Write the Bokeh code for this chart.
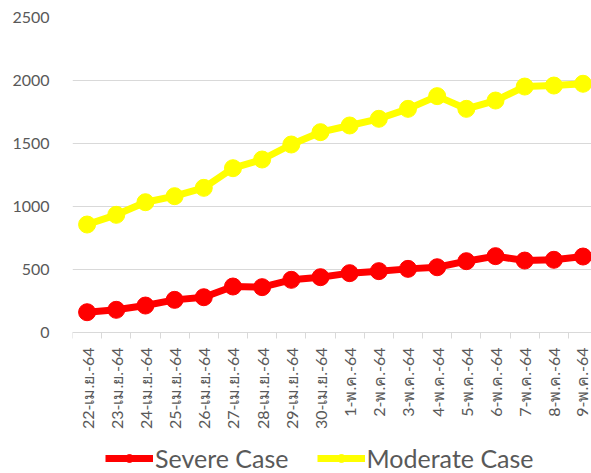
from bokeh.plotting import figure
from bokeh.models import Range1d, FixedTicker, Legend, LegendItem
from bokeh.embed import file_html
from bokeh.resources import INLINE

dates = ["22-เม.ย.-64", "23-เม.ย.-64", "24-เม.ย.-64", "25-เม.ย.-64", "26-เม.ย.-64",
         "27-เม.ย.-64", "28-เม.ย.-64", "29-เม.ย.-64", "30-เม.ย.-64",
         "1-พ.ค.-64", "2-พ.ค.-64", "3-พ.ค.-64", "4-พ.ค.-64", "5-พ.ค.-64",
         "6-พ.ค.-64", "7-พ.ค.-64", "8-พ.ค.-64", "9-พ.ค.-64"]
severe = [161, 180, 214, 259, 280, 365, 360, 418, 439, 471, 487, 505, 518, 566, 606, 571, 577, 603]
moderate = [857, 934, 1034, 1082, 1148, 1304, 1373, 1492, 1590, 1643, 1696, 1775, 1876, 1775, 1841, 1952, 1960, 1974]
y_ticks = [0, 500, 1000, 1500, 2000, 2500]

idx = list(range(len(dates)))

p = figure(frame_width=519, frame_height=456, output_backend="svg", toolbar_location=None,
           x_range=Range1d(-0.5, len(dates) - 0.71), y_range=Range1d(-1119, 2500),
           min_border_left=72, min_border_right=0, min_border_top=17, min_border_bottom=0)
p.outline_line_color = None
p.background_fill_color = "white"

label_font = "Lato"
txt = "#595959"

p.xaxis.fixed_location = 0
p.xaxis.ticker = FixedTicker(ticks=idx, minor_ticks=[i - 0.5 for i in idx] + [len(dates) - 0.5])
p.xaxis.major_label_overrides = {i: d for i, d in enumerate(dates)}
p.xaxis.major_label_orientation = 3.14159265 / 2
p.xaxis.major_tick_line_color = None
p.xaxis.minor_tick_in = 0
p.xaxis.minor_tick_out = 6
p.xaxis.minor_tick_line_color = "#d9d9d9"
p.xaxis.axis_line_color = "#d9d9d9"
p.xaxis.major_label_text_font = label_font
p.xaxis.major_label_text_font_size = "16px"
p.xaxis.major_label_text_color = txt
p.xaxis.major_label_standoff = 9
p.xgrid.grid_line_color = None

p.yaxis.ticker = FixedTicker(ticks=y_ticks)
p.yaxis.axis_line_color = None
p.yaxis.major_tick_line_color = None
p.yaxis.minor_tick_line_color = None
p.yaxis.major_label_text_font = label_font
p.yaxis.major_label_text_font_size = "16px"
p.yaxis.major_label_text_color = txt
p.yaxis.major_label_standoff = 17
p.ygrid.grid_line_color = "#d9d9d9"
p.ygrid.grid_line_width = 1

r1 = p.line(idx, severe, line_color="#ff0000", line_width=7)
c1 = p.scatter(idx, severe, size=17, fill_color="#ff0000", line_color="#ff0000")
r2 = p.line(idx, moderate, line_color="#ffff00", line_width=7)
c2 = p.scatter(idx, moderate, size=17, fill_color="#ffff00", line_color="#ffff00")

legend = Legend(items=[LegendItem(label="Severe Case", renderers=[r1, c1]),
                       LegendItem(label="Moderate Case", renderers=[r2, c2])],
                orientation="horizontal", location=(33, 0),
                label_text_font=label_font, label_text_font_size="25px",
                label_text_color=txt, glyph_width=48, glyph_height=20,
                label_height=20, spacing=28, label_standoff=2, border_line_color=None,
                padding=0, margin=0, background_fill_alpha=0)
p.add_layout(legend, "center")

open("out.html", "w").write(file_html(p, INLINE))
